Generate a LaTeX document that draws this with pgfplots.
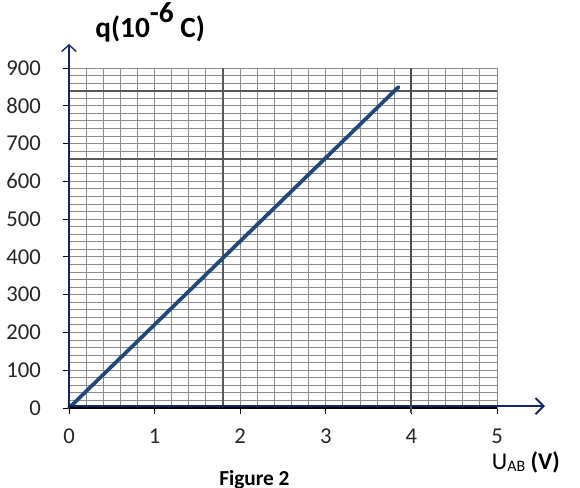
\documentclass[border=0pt]{standalone}
\usepackage{pgfplots}
\pgfplotsset{compat=1.18}
\usepackage{fontspec}
\setmainfont{Carlito}
\usetikzlibrary{arrows.meta}
\definecolor{linecol}{RGB}{31,73,125}
\definecolor{axcol}{RGB}{18,38,105}
\begin{document}
\begin{tikzpicture}[x=1pt,y=1pt]
\useasboundingbox (-51.75,-59.25) rectangle (383.25,306);
\begin{axis}[
    at={(0,0)}, anchor=south west,
    scale only axis, width=321pt, height=255pt,
    xmin=0, xmax=5, ymin=0, ymax=900,
    xtick={0,1,...,5}, ytick={0,100,...,900},
    minor x tick num=4, minor y tick num=4,
    grid=both,
    major grid style={black!45, line width=0.75pt},
    minor grid style={black!45, line width=0.75pt},
    axis line style={black!45, line width=0.75pt},
    tick style={black, line width=0.7pt},
    major tick length=4.5pt, minor tick length=0pt,
    tick align=outside,
    xtick pos=bottom, ytick pos=left,
    extra x ticks={1.8}, extra y ticks={660,840},
    extra x tick labels={}, extra y tick labels={},
    extra tick style={major grid style={black!65, line width=1.3pt}, major tick length=0pt},
    /pgf/number format/assume math mode=true,
    ticklabel style={font=\fontsize{17}{17}\selectfont, text=black!85},
    yticklabel style={xshift=-13pt},
    xticklabel style={yshift=-7.5pt},
    clip=false,
  ]
  \addplot[linecol, line width=2.8pt, line cap=round] coordinates {
    (0,0) (3.85,850)
  };
  \draw[black, line width=0.8pt] (axis cs:0,0) -- (axis cs:5,0);
  \draw[axcol, line width=1pt, -{Straight Barb[length=5pt,width=11pt]}]
    (axis cs:0,0) -- ([yshift=18pt]axis cs:0,900);
  \draw[axcol, line width=1.5pt, -{Straight Barb[length=6pt,width=12pt]}]
    (axis cs:0,5) -- ([xshift=36pt]axis cs:5,5);
  % darker grid line at 4 V
  \draw[black!70, line width=1.4pt] (axis cs:4,-12) -- (axis cs:4,900);
\end{axis}
\node[font=\bfseries\fontsize{22}{22}\selectfont, anchor=base west, inner sep=0pt] at (19.5,278)
  {q(10\raisebox{11pt}{-6}\ C)};
\node[font=\fontsize{18}{18}\selectfont, anchor=base west, inner sep=0pt] at (317,-45.75)
  {U\raisebox{-2pt}{\fontsize{12}{12}\selectfont AB} \textbf{(V)}};
\node[font=\bfseries\fontsize{16}{16}\selectfont, anchor=base west, inner sep=0pt] at (112.5,-58)
  {Figure 2};
\end{tikzpicture}
\end{document}
